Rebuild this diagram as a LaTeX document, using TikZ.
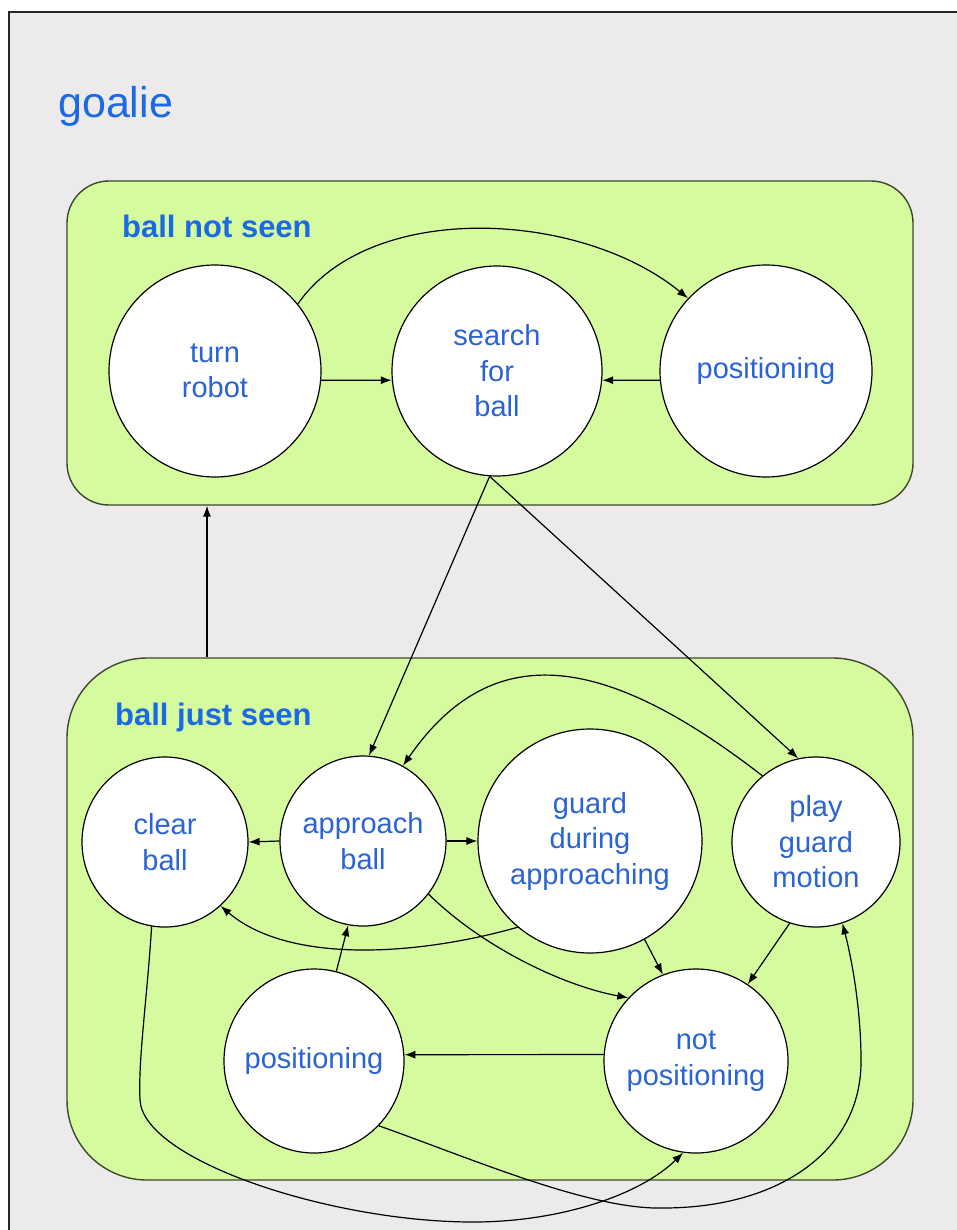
\documentclass[tikz,border=0pt]{standalone}
\usepackage{fontspec}
\setmainfont{Liberation Sans}
\usetikzlibrary{shapes.geometric,arrows.meta}
\definecolor{bgray}{HTML}{ECEAEB}
\definecolor{lgreen}{HTML}{D6FA9E}
\definecolor{bdr}{HTML}{3A4A2C}
\definecolor{tblue}{HTML}{1A6AE6}
\definecolor{cblue}{HTML}{2A64D4}
\begin{document}
\begin{tikzpicture}[x=1pt,y=-1pt,
  state/.style={ellipse, draw=black, line width=1.2pt, fill=white, inner sep=0pt},
  stxt/.style={align=center, text=cblue, font=\fontsize{29}{35.5}\selectfont, inner sep=0pt},
  grp/.style={rectangle, draw=bdr, line width=1.4pt, fill=lgreen, inner sep=0pt},
  hd/.style={anchor=base west, text=tblue, font=\fontsize{31}{36}\selectfont\bfseries, inner sep=0pt},
  arr/.style={line width=1.2pt, -{Latex[length=11pt,width=8pt]}}
]
\useasboundingbox (0,0) rectangle (957,1230);
\fill[white] (0,0) rectangle (957,1230);
\fill[bgray] (9,12) rectangle (962,1235);
\draw[line width=1.5pt, black!85] (962,12) -- (9,12) -- (9,1235);

\node[anchor=base west, text=tblue, font=\fontsize{43}{50}\selectfont, inner sep=0pt] (title) at (58,118) {goalie};

% groups
\node[grp, rounded corners=42pt, minimum width=846pt, minimum height=324pt] (bns) at (490,343) {};
\node[grp, rounded corners=80pt, minimum width=846pt, minimum height=522pt] (bjs) at (490,919) {};
\node[hd] (h1) at (122,238) {ball not seen};
\node[hd] (h2) at (115,725) {ball just seen};

% states, top
\node[state, minimum width=212pt, minimum height=212pt] (tr) at (215,371) {};
\node[state, minimum width=210pt, minimum height=210pt] (sb) at (497,371) {};
\node[state, minimum width=212pt, minimum height=212pt] (tp) at (766,371) {};
\node[stxt] (trL) at (tr) {turn\\robot};
\node[stxt] (sbL) at (sb) {search\\for\\ball};
\node[stxt] (tpL) at (tp) {positioning};

% states, bottom
\node[state, minimum width=166pt, minimum height=170pt] (cb) at (165,842) {};
\node[state, minimum width=166pt, minimum height=170pt] (ab) at (363,841) {};
\node[state, minimum width=224pt, minimum height=224pt] (gd) at (590,841) {};
\node[state, minimum width=168pt, minimum height=170pt] (pg) at (816,842) {};
\node[state, minimum width=180pt, minimum height=184pt] (bp) at (314,1061) {};
\node[state, minimum width=184pt, minimum height=184pt] (np) at (696,1061) {};
\node[stxt] (cbL) at (cb) {clear\\ball};
\node[stxt] (abL) at (ab) {approach\\ball};
\node[stxt] (gdL) at (gd) {guard\\during\\approaching};
\node[stxt] (pgL) at (pg) {play\\guard\\motion};
\node[stxt] (bpL) at (bp) {positioning};
\node[stxt] (npL) at (np) {not\\positioning};

% connectors, top group
\draw[arr] (tr.-5) -- (sb.-175);
\draw[arr] (tp.-175) -- (sb.-5);
\draw[arr] (tr.39) .. controls (370,200) and (580,210) .. (tp.137);

% between groups
\coordinate (vx) at (207,600);
\draw[arr] (bjs.north -| vx) -- (bns.south -| vx);
\draw[arr] (sb.-94) -- (ab.86);
\draw[arr] (sb.-94) -- (pg.102);

% connectors, bottom group
\draw[arr] (pg.129) .. controls (600,650) and (490,640) .. (ab.62);
\draw[arr] (ab.180) -- (cb.0);
\draw[arr] (ab.0) -- (gd.180);
\draw[arr] (gd.-130) .. controls (420,955) and (290,965) .. (cb.-49);
\draw[arr] (ab.-39) .. controls (480,945) and (560,985) .. (np.137);
\draw[arr] (gd.-61) -- (np.111);
\draw[arr] (pg.-108) -- (np.56);
\draw[arr] (bp.76) -- (ab.-100);
\draw[arr] (np.176) -- (bp.4);

\coordinate (c1) at (140,1100);
\coordinate (c2) at (473,1222);
\draw[arr] (cb.-99) .. controls (147,1000) and (138,1060) .. (c1)
  .. controls (143,1160) and (330,1222) .. (c2)
  .. controls (560,1222) and (640,1195) .. (np.-98);

\coordinate (d1) at (663,1208);
\coordinate (d2) at (861,1060);
\draw[arr] (bp.-45) .. controls (470,1158) and (590,1210) .. (d1)
  .. controls (780,1208) and (862,1150) .. (d2)
  .. controls (861,1010) and (852,960) .. (pg.-72);
\end{tikzpicture}
\end{document}
